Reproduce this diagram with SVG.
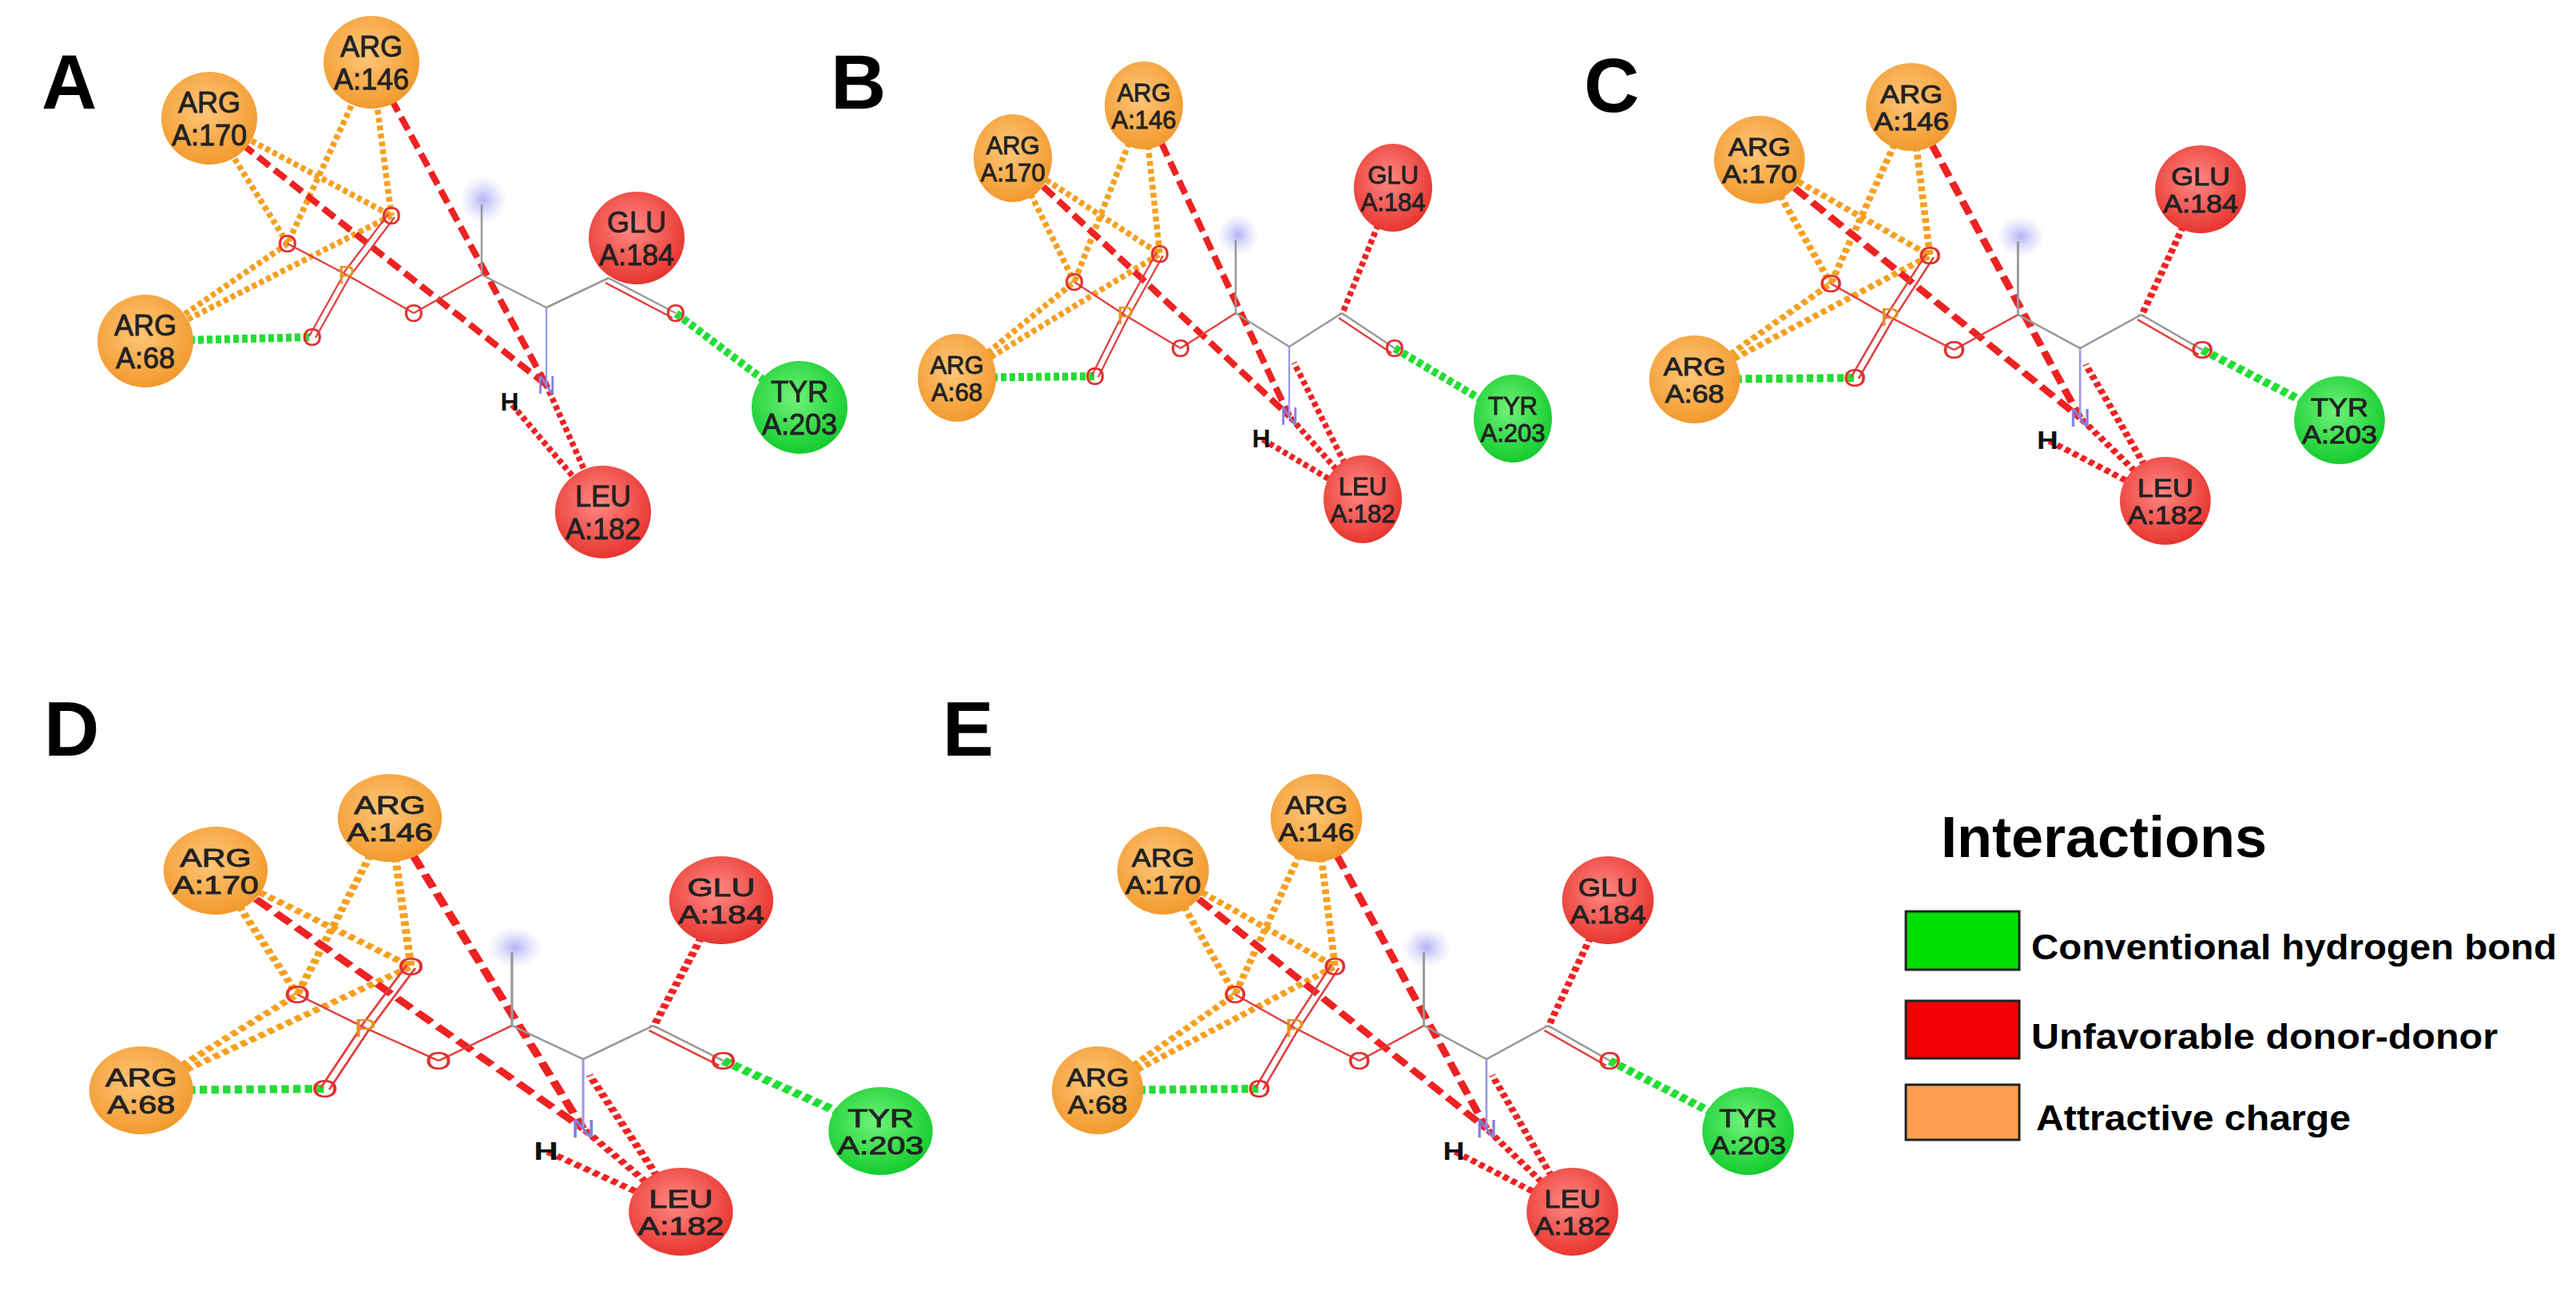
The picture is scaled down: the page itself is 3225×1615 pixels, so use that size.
<svg xmlns="http://www.w3.org/2000/svg" width="3225" height="1615" viewBox="0 0 3225 1615">
<defs>
<radialGradient id="gOr" cx="45%" cy="40%" r="60%"><stop offset="0" stop-color="#FFC77A"/><stop offset="1" stop-color="#F29A2E"/></radialGradient>
<radialGradient id="gRd" cx="45%" cy="40%" r="60%"><stop offset="0" stop-color="#FF8A85"/><stop offset="1" stop-color="#E8352F"/></radialGradient>
<radialGradient id="gGr" cx="45%" cy="40%" r="60%"><stop offset="0" stop-color="#70F27A"/><stop offset="1" stop-color="#14CC2E"/></radialGradient>
<radialGradient id="gGlow"><stop offset="0" stop-color="#A9A9F5" stop-opacity="0.9"/><stop offset="1" stop-color="#C8C8FA" stop-opacity="0"/></radialGradient>
<style>
.oc{stroke:#F5A020;stroke-width:7.5;stroke-dasharray:6 4;fill:none}
.gc{stroke:#22DD33;stroke-width:10;stroke-dasharray:7 4;fill:none}
.rd{stroke:#EE2222;stroke-width:8;stroke-dasharray:18 8;fill:none}
.rt{stroke:#EE2222;stroke-width:7.5;stroke-dasharray:6 4;fill:none}
.b{stroke:#999;stroke-width:2.5}
.bo{stroke:#E04040;stroke-width:2.3}
.bp{stroke:#F0A030;stroke-width:2.3}
.bn{stroke:#9999EE;stroke-width:2.3}
.at{font-family:"Liberation Sans",Arial,sans-serif;font-size:32px;text-anchor:middle}
.ao{fill:#E03030}.ap{fill:#E89020}.an{fill:#8080E0}.ah{fill:#111;font-weight:bold}
.rs{font-family:"Liberation Sans",Arial,sans-serif;text-anchor:middle;fill:#222;stroke:#222;stroke-width:0.9}
.r1{font-size:31px}.r2{font-size:36px}
.pl{font-family:"Liberation Sans",Arial,sans-serif;font-weight:bold;font-size:96px;fill:#000}
.lg{font-family:"Liberation Sans",Arial,sans-serif;font-weight:bold;fill:#000}
</style>
</defs>
<rect width="3225" height="1615" fill="#fff"/>

<!-- Panel A -->
<text class="pl" x="52" y="136">A</text>
<g id="A-connectors">
<line class="oc" x1="262" y1="148" x2="360" y2="305"/>
<line class="oc" x1="262" y1="148" x2="490" y2="270"/>
<line class="oc" x1="465" y1="78" x2="360" y2="305"/>
<line class="oc" x1="465" y1="78" x2="490" y2="270"/>
<line class="oc" x1="182" y1="427" x2="360" y2="305"/>
<line class="oc" x1="182" y1="427" x2="490" y2="270"/>
<line class="gc" x1="182" y1="427" x2="391" y2="422"/>
<line class="gc" x1="1001" y1="510" x2="846" y2="392"/>
<line class="rd" x1="262" y1="148" x2="684" y2="482"/>
<line class="rd" x1="465" y1="78" x2="684" y2="482"/>
<line class="rt" x1="755" y1="641" x2="684" y2="482"/>
<line class="rt" x1="755" y1="641" x2="638" y2="503"/>
</g>
<g id="A-ligand">
<circle cx="605" cy="250" r="30" fill="url(#gGlow)"/>
<line class="bo" x1="434" y1="344" x2="360" y2="305"/>
<line class="bo" x1="430" y1="342" x2="486" y2="268"/><line class="bo" x1="438" y1="346" x2="494" y2="272"/>
<line class="bo" x1="430" y1="344" x2="387" y2="421"/><line class="bo" x1="438" y1="346" x2="395" y2="423"/>
<line class="bo" x1="434" y1="344" x2="518" y2="392"/>
<line class="bo" x1="518" y1="392" x2="603" y2="344"/>
<line class="b" x1="603" y1="344" x2="603" y2="256"/>
<line class="b" x1="603" y1="344" x2="684" y2="385"/>
<line class="bn" x1="684" y1="385" x2="684" y2="482"/>
<line class="b" x1="684" y1="385" x2="762" y2="348"/>
<line class="b" x1="762" y1="348" x2="846" y2="392"/><line class="bo" x1="758" y1="354" x2="842" y2="398"/>
<text class="at ao" x="490" y="281">O</text><text class="at ao" x="360" y="316">O</text>
<text class="at ap" x="434" y="355">P</text><text class="at ao" x="391" y="433">O</text>
<text class="at ao" x="518" y="403">O</text><text class="at ao" x="846" y="403">O</text>
<text class="at an" x="684" y="493">N</text><text class="at ah" x="638" y="514">H</text>
</g>
<g id="A-ARG146"><ellipse cx="465" cy="78" rx="60" ry="58" fill="url(#gOr)"/><text class="rs r2" x="465" y="71">ARG</text><text class="rs r2" x="465" y="112">A:146</text></g>
<g id="A-ARG170"><ellipse cx="262" cy="148" rx="60" ry="58" fill="url(#gOr)"/><text class="rs r2" x="262" y="141">ARG</text><text class="rs r2" x="262" y="182">A:170</text></g>
<g id="A-ARG68"><ellipse cx="182" cy="427" rx="60" ry="58" fill="url(#gOr)"/><text class="rs r2" x="182" y="420">ARG</text><text class="rs r2" x="182" y="461">A:68</text></g>
<g id="A-GLU184"><ellipse cx="797" cy="298" rx="60" ry="58" fill="url(#gRd)"/><text class="rs r2" x="797" y="291">GLU</text><text class="rs r2" x="797" y="332">A:184</text></g>
<g id="A-TYR203"><ellipse cx="1001" cy="510" rx="60" ry="58" fill="url(#gGr)"/><text class="rs r2" x="1001" y="503">TYR</text><text class="rs r2" x="1001" y="544">A:203</text></g>
<g id="A-LEU182"><ellipse cx="755" cy="641" rx="60" ry="58" fill="url(#gRd)"/><text class="rs r2" x="755" y="634">LEU</text><text class="rs r2" x="755" y="675">A:182</text></g>

<!-- Panel labels -->
<text class="pl" x="1040" y="136">B</text>
<text class="pl" x="1983" y="140">C</text>
<text class="pl" x="55" y="946">D</text>
<text class="pl" x="1180" y="946">E</text>

<!-- Panel B -->
<g id="panelB" transform="translate(1432,132)">
<g id="B-connectors">
<line class="oc" x1="-164" y1="66" x2="-87" y2="221"/><line class="oc" x1="-164" y1="66" x2="20" y2="186"/>
<line class="oc" x1="0" y1="0" x2="-87" y2="221"/><line class="oc" x1="0" y1="0" x2="20" y2="186"/>
<line class="oc" x1="-234" y1="341" x2="-87" y2="221"/><line class="oc" x1="-234" y1="341" x2="20" y2="186"/>
<line class="gc" x1="-234" y1="341" x2="-61" y2="339"/><line class="gc" x1="462" y1="392" x2="314" y2="304"/>
<line class="rd" x1="-164" y1="66" x2="182" y2="389"/><line class="rd" x1="0" y1="0" x2="182" y2="389"/>
<line class="rt" x1="274" y1="493" x2="188" y2="322"/><line class="rt" x1="274" y1="493" x2="182" y2="389"/>
<line class="rt" x1="274" y1="493" x2="147" y2="417"/><line class="rt" x1="312" y1="103" x2="248" y2="262"/>
</g>
<g id="B-ligand">
<circle cx="118" cy="162" r="26" fill="url(#gGlow)"/>
<line class="bo" x1="-23" y1="263" x2="-87" y2="221"/>
<line class="bo" x1="-27" y1="261" x2="16" y2="184"/><line class="bo" x1="-19" y1="265" x2="24" y2="188"/>
<line class="bo" x1="-27" y1="262" x2="-65" y2="338"/><line class="bo" x1="-19" y1="264" x2="-57" y2="340"/>
<line class="bo" x1="-23" y1="263" x2="46" y2="304"/><line class="bo" x1="46" y1="304" x2="115" y2="260"/>
<line class="b" x1="115" y1="260" x2="115" y2="168"/><line class="b" x1="115" y1="260" x2="182" y2="302"/>
<line class="bn" x1="182" y1="302" x2="182" y2="389"/><line class="b" x1="182" y1="302" x2="248" y2="260"/>
<line class="b" x1="248" y1="260" x2="314" y2="304"/><line class="bo" x1="244" y1="266" x2="310" y2="310"/>
<text class="at ao" x="20" y="197">O</text><text class="at ao" x="-87" y="232">O</text><text class="at ap" x="-23" y="274">P</text>
<text class="at ao" x="-61" y="350">O</text><text class="at ao" x="46" y="315">O</text><text class="at ao" x="314" y="315">O</text>
<text class="at an" x="182" y="400">N</text><text class="at ah" x="147" y="428">H</text>
</g>
<g id="B-ARG146"><ellipse cx="0" cy="0" rx="49" ry="55" fill="url(#gOr)"/><text class="rs r1" x="0" y="-5">ARG</text><text class="rs r1" x="0" y="29">A:146</text></g>
<g id="B-ARG170"><ellipse cx="-164" cy="66" rx="49" ry="55" fill="url(#gOr)"/><text class="rs r1" x="-164" y="61">ARG</text><text class="rs r1" x="-164" y="95">A:170</text></g>
<g id="B-ARG68"><ellipse cx="-234" cy="341" rx="49" ry="55" fill="url(#gOr)"/><text class="rs r1" x="-234" y="336">ARG</text><text class="rs r1" x="-234" y="370">A:68</text></g>
<g id="B-GLU184"><ellipse cx="312" cy="103" rx="49" ry="55" fill="url(#gRd)"/><text class="rs r1" x="312" y="98">GLU</text><text class="rs r1" x="312" y="132">A:184</text></g>
<g id="B-TYR203"><ellipse cx="462" cy="392" rx="49" ry="55" fill="url(#gGr)"/><text class="rs r1" x="462" y="387">TYR</text><text class="rs r1" x="462" y="421">A:203</text></g>
<g id="B-LEU182"><ellipse cx="274" cy="493" rx="49" ry="55" fill="url(#gRd)"/><text class="rs r1" x="274" y="488">LEU</text><text class="rs r1" x="274" y="522">A:182</text></g>
</g>

<!-- Panel C -->
<g id="panelC" transform="translate(2393,134) scale(1.16,1)">
<g id="C-connectors">
<line class="oc" x1="-164" y1="66" x2="-87" y2="221"/><line class="oc" x1="-164" y1="66" x2="20" y2="186"/>
<line class="oc" x1="0" y1="0" x2="-87" y2="221"/><line class="oc" x1="0" y1="0" x2="20" y2="186"/>
<line class="oc" x1="-234" y1="341" x2="-87" y2="221"/><line class="oc" x1="-234" y1="341" x2="20" y2="186"/>
<line class="gc" x1="-234" y1="341" x2="-61" y2="339"/><line class="gc" x1="462" y1="392" x2="314" y2="304"/>
<line class="rd" x1="-164" y1="66" x2="182" y2="389"/><line class="rd" x1="0" y1="0" x2="182" y2="389"/>
<line class="rt" x1="274" y1="493" x2="188" y2="322"/><line class="rt" x1="274" y1="493" x2="182" y2="389"/>
<line class="rt" x1="274" y1="493" x2="147" y2="417"/><line class="rt" x1="312" y1="103" x2="248" y2="262"/>
</g>
<g id="C-ligand">
<circle cx="118" cy="162" r="26" fill="url(#gGlow)"/>
<line class="bo" x1="-23" y1="263" x2="-87" y2="221"/>
<line class="bo" x1="-27" y1="261" x2="16" y2="184"/><line class="bo" x1="-19" y1="265" x2="24" y2="188"/>
<line class="bo" x1="-27" y1="262" x2="-65" y2="338"/><line class="bo" x1="-19" y1="264" x2="-57" y2="340"/>
<line class="bo" x1="-23" y1="263" x2="46" y2="304"/><line class="bo" x1="46" y1="304" x2="115" y2="260"/>
<line class="b" x1="115" y1="260" x2="115" y2="168"/><line class="b" x1="115" y1="260" x2="182" y2="302"/>
<line class="bn" x1="182" y1="302" x2="182" y2="389"/><line class="b" x1="182" y1="302" x2="248" y2="260"/>
<line class="b" x1="248" y1="260" x2="314" y2="304"/><line class="bo" x1="244" y1="266" x2="310" y2="310"/>
<text class="at ao" x="20" y="197">O</text><text class="at ao" x="-87" y="232">O</text><text class="at ap" x="-23" y="274">P</text>
<text class="at ao" x="-61" y="350">O</text><text class="at ao" x="46" y="315">O</text><text class="at ao" x="314" y="315">O</text>
<text class="at an" x="182" y="400">N</text><text class="at ah" x="147" y="428">H</text>
</g>
<g id="C-ARG146"><ellipse cx="0" cy="0" rx="49" ry="55" fill="url(#gOr)"/><text class="rs r1" x="0" y="-5">ARG</text><text class="rs r1" x="0" y="29">A:146</text></g>
<g id="C-ARG170"><ellipse cx="-164" cy="66" rx="49" ry="55" fill="url(#gOr)"/><text class="rs r1" x="-164" y="61">ARG</text><text class="rs r1" x="-164" y="95">A:170</text></g>
<g id="C-ARG68"><ellipse cx="-234" cy="341" rx="49" ry="55" fill="url(#gOr)"/><text class="rs r1" x="-234" y="336">ARG</text><text class="rs r1" x="-234" y="370">A:68</text></g>
<g id="C-GLU184"><ellipse cx="312" cy="103" rx="49" ry="55" fill="url(#gRd)"/><text class="rs r1" x="312" y="98">GLU</text><text class="rs r1" x="312" y="132">A:184</text></g>
<g id="C-TYR203"><ellipse cx="462" cy="392" rx="49" ry="55" fill="url(#gGr)"/><text class="rs r1" x="462" y="387">TYR</text><text class="rs r1" x="462" y="421">A:203</text></g>
<g id="C-LEU182"><ellipse cx="274" cy="493" rx="49" ry="55" fill="url(#gRd)"/><text class="rs r1" x="274" y="488">LEU</text><text class="rs r1" x="274" y="522">A:182</text></g>
</g>

<!-- Panel D -->
<g id="panelD" transform="translate(488,1024) scale(1.33,1)">
<g id="D-connectors">
<line class="oc" x1="-164" y1="66" x2="-87" y2="221"/><line class="oc" x1="-164" y1="66" x2="20" y2="186"/>
<line class="oc" x1="0" y1="0" x2="-87" y2="221"/><line class="oc" x1="0" y1="0" x2="20" y2="186"/>
<line class="oc" x1="-234" y1="341" x2="-87" y2="221"/><line class="oc" x1="-234" y1="341" x2="20" y2="186"/>
<line class="gc" x1="-234" y1="341" x2="-61" y2="339"/><line class="gc" x1="462" y1="392" x2="314" y2="304"/>
<line class="rd" x1="-164" y1="66" x2="182" y2="389"/><line class="rd" x1="0" y1="0" x2="182" y2="389"/>
<line class="rt" x1="274" y1="493" x2="188" y2="322"/><line class="rt" x1="274" y1="493" x2="182" y2="389"/>
<line class="rt" x1="274" y1="493" x2="147" y2="417"/><line class="rt" x1="312" y1="103" x2="248" y2="262"/>
</g>
<g id="D-ligand">
<circle cx="118" cy="162" r="26" fill="url(#gGlow)"/>
<line class="bo" x1="-23" y1="263" x2="-87" y2="221"/>
<line class="bo" x1="-27" y1="261" x2="16" y2="184"/><line class="bo" x1="-19" y1="265" x2="24" y2="188"/>
<line class="bo" x1="-27" y1="262" x2="-65" y2="338"/><line class="bo" x1="-19" y1="264" x2="-57" y2="340"/>
<line class="bo" x1="-23" y1="263" x2="46" y2="304"/><line class="bo" x1="46" y1="304" x2="115" y2="260"/>
<line class="b" x1="115" y1="260" x2="115" y2="168"/><line class="b" x1="115" y1="260" x2="182" y2="302"/>
<line class="bn" x1="182" y1="302" x2="182" y2="389"/><line class="b" x1="182" y1="302" x2="248" y2="260"/>
<line class="b" x1="248" y1="260" x2="314" y2="304"/><line class="bo" x1="244" y1="266" x2="310" y2="310"/>
<text class="at ao" x="20" y="197">O</text><text class="at ao" x="-87" y="232">O</text><text class="at ap" x="-23" y="274">P</text>
<text class="at ao" x="-61" y="350">O</text><text class="at ao" x="46" y="315">O</text><text class="at ao" x="314" y="315">O</text>
<text class="at an" x="182" y="400">N</text><text class="at ah" x="147" y="428">H</text>
</g>
<g id="D-ARG146"><ellipse cx="0" cy="0" rx="49" ry="55" fill="url(#gOr)"/><text class="rs r1" x="0" y="-5">ARG</text><text class="rs r1" x="0" y="29">A:146</text></g>
<g id="D-ARG170"><ellipse cx="-164" cy="66" rx="49" ry="55" fill="url(#gOr)"/><text class="rs r1" x="-164" y="61">ARG</text><text class="rs r1" x="-164" y="95">A:170</text></g>
<g id="D-ARG68"><ellipse cx="-234" cy="341" rx="49" ry="55" fill="url(#gOr)"/><text class="rs r1" x="-234" y="336">ARG</text><text class="rs r1" x="-234" y="370">A:68</text></g>
<g id="D-GLU184"><ellipse cx="312" cy="103" rx="49" ry="55" fill="url(#gRd)"/><text class="rs r1" x="312" y="98">GLU</text><text class="rs r1" x="312" y="132">A:184</text></g>
<g id="D-TYR203"><ellipse cx="462" cy="392" rx="49" ry="55" fill="url(#gGr)"/><text class="rs r1" x="462" y="387">TYR</text><text class="rs r1" x="462" y="421">A:203</text></g>
<g id="D-LEU182"><ellipse cx="274" cy="493" rx="49" ry="55" fill="url(#gRd)"/><text class="rs r1" x="274" y="488">LEU</text><text class="rs r1" x="274" y="522">A:182</text></g>
</g>

<!-- Panel E -->
<g id="panelE" transform="translate(1648,1024) scale(1.17,1)">
<g id="E-connectors">
<line class="oc" x1="-164" y1="66" x2="-87" y2="221"/><line class="oc" x1="-164" y1="66" x2="20" y2="186"/>
<line class="oc" x1="0" y1="0" x2="-87" y2="221"/><line class="oc" x1="0" y1="0" x2="20" y2="186"/>
<line class="oc" x1="-234" y1="341" x2="-87" y2="221"/><line class="oc" x1="-234" y1="341" x2="20" y2="186"/>
<line class="gc" x1="-234" y1="341" x2="-61" y2="339"/><line class="gc" x1="462" y1="392" x2="314" y2="304"/>
<line class="rd" x1="-164" y1="66" x2="182" y2="389"/><line class="rd" x1="0" y1="0" x2="182" y2="389"/>
<line class="rt" x1="274" y1="493" x2="188" y2="322"/><line class="rt" x1="274" y1="493" x2="182" y2="389"/>
<line class="rt" x1="274" y1="493" x2="147" y2="417"/><line class="rt" x1="312" y1="103" x2="248" y2="262"/>
</g>
<g id="E-ligand">
<circle cx="118" cy="162" r="26" fill="url(#gGlow)"/>
<line class="bo" x1="-23" y1="263" x2="-87" y2="221"/>
<line class="bo" x1="-27" y1="261" x2="16" y2="184"/><line class="bo" x1="-19" y1="265" x2="24" y2="188"/>
<line class="bo" x1="-27" y1="262" x2="-65" y2="338"/><line class="bo" x1="-19" y1="264" x2="-57" y2="340"/>
<line class="bo" x1="-23" y1="263" x2="46" y2="304"/><line class="bo" x1="46" y1="304" x2="115" y2="260"/>
<line class="b" x1="115" y1="260" x2="115" y2="168"/><line class="b" x1="115" y1="260" x2="182" y2="302"/>
<line class="bn" x1="182" y1="302" x2="182" y2="389"/><line class="b" x1="182" y1="302" x2="248" y2="260"/>
<line class="b" x1="248" y1="260" x2="314" y2="304"/><line class="bo" x1="244" y1="266" x2="310" y2="310"/>
<text class="at ao" x="20" y="197">O</text><text class="at ao" x="-87" y="232">O</text><text class="at ap" x="-23" y="274">P</text>
<text class="at ao" x="-61" y="350">O</text><text class="at ao" x="46" y="315">O</text><text class="at ao" x="314" y="315">O</text>
<text class="at an" x="182" y="400">N</text><text class="at ah" x="147" y="428">H</text>
</g>
<g id="E-ARG146"><ellipse cx="0" cy="0" rx="49" ry="55" fill="url(#gOr)"/><text class="rs r1" x="0" y="-5">ARG</text><text class="rs r1" x="0" y="29">A:146</text></g>
<g id="E-ARG170"><ellipse cx="-164" cy="66" rx="49" ry="55" fill="url(#gOr)"/><text class="rs r1" x="-164" y="61">ARG</text><text class="rs r1" x="-164" y="95">A:170</text></g>
<g id="E-ARG68"><ellipse cx="-234" cy="341" rx="49" ry="55" fill="url(#gOr)"/><text class="rs r1" x="-234" y="336">ARG</text><text class="rs r1" x="-234" y="370">A:68</text></g>
<g id="E-GLU184"><ellipse cx="312" cy="103" rx="49" ry="55" fill="url(#gRd)"/><text class="rs r1" x="312" y="98">GLU</text><text class="rs r1" x="312" y="132">A:184</text></g>
<g id="E-TYR203"><ellipse cx="462" cy="392" rx="49" ry="55" fill="url(#gGr)"/><text class="rs r1" x="462" y="387">TYR</text><text class="rs r1" x="462" y="421">A:203</text></g>
<g id="E-LEU182"><ellipse cx="274" cy="493" rx="49" ry="55" fill="url(#gRd)"/><text class="rs r1" x="274" y="488">LEU</text><text class="rs r1" x="274" y="522">A:182</text></g>
</g>

<!-- Legend -->
<g id="legend">
<text class="lg" x="2430" y="1073" font-size="72">Interactions</text>
<rect x="2386" y="1141" width="142" height="73" fill="#00E000" stroke="#222" stroke-width="3"/>
<rect x="2386" y="1253" width="142" height="72" fill="#F00000" stroke="#222" stroke-width="3"/>
<rect x="2386" y="1358" width="142" height="69" fill="#FFA050" stroke="#222" stroke-width="3"/>
<text class="lg" x="2543" y="1201" font-size="44" textLength="658" lengthAdjust="spacingAndGlyphs">Conventional hydrogen bond</text>
<text class="lg" x="2543" y="1313" font-size="44" textLength="584" lengthAdjust="spacingAndGlyphs">Unfavorable donor-donor</text>
<text class="lg" x="2549" y="1415" font-size="44" textLength="394" lengthAdjust="spacingAndGlyphs">Attractive charge</text>
</g>
</svg>
